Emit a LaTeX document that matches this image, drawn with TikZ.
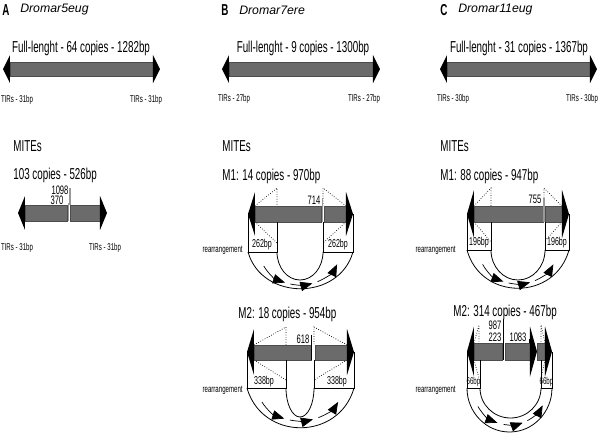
\documentclass[tikz,border=0pt]{standalone}
\usepackage{fontspec}
\newfontfamily\narrowsf{Liberation Sans}[FakeStretch=0.62]
\newfontfamily\plainsf{Liberation Sans}
\usetikzlibrary{positioning, arrows.meta}

\begin{document}
\begin{tikzpicture}[x=0.02cm, y=-0.02cm, line width=0.45pt,
    lbl/.style={font=\narrowsf\fontsize{9}{10}\selectfont, inner sep=0pt},
    tir/.style={font=\narrowsf\fontsize{5.6}{6}\selectfont, inner sep=0pt},
    num/.style={font=\narrowsf\fontsize{7}{8}\selectfont, inner sep=0pt},
    bp/.style={font=\narrowsf\fontsize{6.5}{7}\selectfont, inner sep=0pt},
    panel/.style={font=\narrowsf\bfseries\fontsize{9}{10}\selectfont, inner sep=0pt},
    species/.style={font=\plainsf\itshape\fontsize{7}{8}\selectfont, inner sep=0pt},
    bar/.style={fill=black!58, draw=black!70, line width=0.3pt},
    dot/.style={densely dotted, line width=0.4pt},
    tick/.style={draw=black!40, line width=0.6pt},
    flow/.style={-{Triangle[length=2.4mm, width=1.9mm]}, line width=0.4pt},
    pics/tirl/.style={code={\fill (0,-#1) -- (-7,0) -- (0,#1) -- cycle;}},
    pics/tirr/.style={code={\fill (0,-#1) -- (7,0) -- (0,#1) -- cycle;}}
  ]
  \useasboundingbox (0,0) rectangle (600,434);

  % A
  \node[panel, anchor=west] (lA) at (2,10) {A};
  \node[species, right=0.2cm of lA] (nA) {Dromar5eug};
  \node[lbl] (fA) at (81,48) {Full-lenght - 64 copies - 1282bp};
  \draw[bar] (10,62) rectangle (153,76);
  \pic at (10,69) {tirl=14};
  \pic at (153,69) {tirr=14};
  \node[tir] (tA1) at (17,100) {TIRs - 31bp};
  \node[tir] (tA2) at (146,100) {TIRs - 31bp};

  \node[lbl, anchor=west] (mA) at (13,146) {MITEs};
  \node[lbl, anchor=west] (cA) at (13,175) {103 copies - 526bp};
  \draw[bar] (25,205) rectangle (67,221);
  \draw[bar] (70,205) rectangle (100,221);
  \draw[tick] (68.5,203) -- (68.5,221);
  \draw[tick] (70,188) -- (70,205);
  \pic at (25,213) {tirl=17};
  \pic at (100,213) {tirr=17};
  \node[num] (pA1) at (60,190) {1098};
  \node[num] (pA2) at (57,200) {370};
  \node[tir] (tA3) at (17,248) {TIRs - 31bp};
  \node[tir] (tA4) at (105,248) {TIRs - 31bp};

  % B
  \node[panel, anchor=west] (lB) at (221,10) {B};
  \node[species, right=0.2cm of lB] (nB) {Dromar7ere};
  \node[lbl] (fB) at (303,48) {Full-lenght - 9 copies - 1300bp};
  \draw[bar] (229,62) rectangle (373,76);
  \pic at (229,69) {tirl=14};
  \pic at (373,69) {tirr=14};
  \node[tir] (tB1) at (234,99) {TIRs - 27bp};
  \node[tir] (tB2) at (364,99) {TIRs - 27bp};
  \node[lbl, anchor=west] (mB) at (222,146) {MITEs};

  % B - M1
  \node[lbl, anchor=west] (cB1) at (222,176) {M1: 14 copies - 970bp};
  \draw[dot] (255,206) -- (277,188) -- (277,206)  (255,222) -- (277,243);
  \draw[dot] (346,206) -- (323,188) -- (323,206)  (346,222) -- (323,243);
  \draw[bar] (255,206) rectangle (321,222);
  \draw[bar] (324,206) rectangle (346,222);
  \draw[tick] (322.5,198) -- (322.5,222);
  \pic at (255,214) {tirl=22};
  \pic at (346,214) {tirr=22};
  \node[num] (pB1) at (314,200) {714};
  \draw (248,214) -- (248,252) -- (277,252) -- (277,222);
  \draw (353,214) -- (353,252) -- (323,252) -- (323,222);
  \draw (277,252) arc[start angle=180, end angle=0, x radius=23, y radius=28];
  \draw (248,252) .. controls (262,301) and (339,301) .. (353,252);
  \foreach \a/\b in {155/112, 104/72, 64/22}
    \draw[flow] ([shift={(300,252)}]\a:40 and 33) arc[start angle=\a, end angle=\b, x radius=40, y radius=33];
  \node[bp] (sB1) at (262,245) {262bp};
  \node[bp] (sB2) at (338,245) {262bp};
  \node[tir, anchor=east] (rB1) at (243,250) {rearrangement};

  % B - M2
  \node[lbl, anchor=west] (cB2) at (238,314) {M2: 18 copies - 954bp};
  \draw[dot] (254,345) -- (286,327) -- (286,345)  (254,360) -- (286,380);
  \draw[dot] (347,345) -- (314,327) -- (314,345)  (347,360) -- (314,380);
  \draw[bar] (254,345) rectangle (311,360);
  \draw[bar] (315,345) rectangle (347,360);
  \draw[line width=0.4pt] (311,335) -- (311,360);
  \pic at (254,352) {tirl=23};
  \pic at (347,352) {tirr=23};
  \node[num] (pB2) at (303,339) {618};
  \draw (247,352) -- (247,388) -- (286,388) -- (286,360);
  \draw (354,352) -- (354,388) -- (314,388) -- (314,360);
  \draw (286,388) arc[start angle=180, end angle=0, x radius=14, y radius=29];
  \draw (247,388) .. controls (262,441) and (339,441) .. (354,388);
  \foreach \a/\b in {155/112, 104/72, 64/25}
    \draw[flow] ([shift={(300,388)}]\a:42 and 33) arc[start angle=\a, end angle=\b, x radius=42, y radius=33];
  \node[bp] (sB3) at (264,382) {338bp};
  \node[bp] (sB4) at (337,382) {338bp};
  \node[tir, anchor=east] (rB2) at (243,390) {rearrangement};

  % C
  \node[panel, anchor=west] (lC) at (440,10) {C};
  \node[species, right=0.2cm of lC] (nC) {Dromar11eug};
  \node[lbl] (fC) at (519,48) {Full-lenght - 31 copies - 1367bp};
  \draw[bar] (447,62) rectangle (590,76);
  \pic at (447,69) {tirl=14};
  \pic at (590,69) {tirr=14};
  \node[tir] (tC1) at (453,99) {TIRs - 30bp};
  \node[tir] (tC2) at (582,99) {TIRs - 30bp};
  \node[lbl, anchor=west] (mC) at (440,146) {MITEs};

  % C - M1
  \node[lbl, anchor=west] (cC1) at (440,176) {M1: 88 copies - 947bp};
  \draw[dot] (474,206) -- (491,188) -- (491,206)  (474,222) -- (491,242);
  \draw[dot] (562,206) -- (544,188) -- (544,206)  (562,222) -- (544,242);
  \draw[bar] (474,206) rectangle (543,222);
  \draw[bar] (545,206) rectangle (562,222);
  \draw[tick] (544,198) -- (544,222);
  \pic at (474,214) {tirl=24};
  \pic at (562,214) {tirr=24};
  \node[num] (pC1) at (535,199) {755};
  \draw (467,214) -- (467,250) -- (491,250) -- (491,222);
  \draw (569,214) -- (569,250) -- (545,250) -- (545,222);
  \draw (491,250) arc[start angle=180, end angle=0, x radius=27, y radius=30];
  \draw (467,250) .. controls (481,301) and (555,301) .. (569,250);
  \foreach \a/\b in {155/112, 104/72, 64/25}
    \draw[flow] ([shift={(518,250)}]\a:39 and 34) arc[start angle=\a, end angle=\b, x radius=39, y radius=34];
  \node[bp] (sC1) at (479,243) {196bp};
  \node[bp] (sC2) at (557,243) {196bp};
  \node[tir, anchor=east] (rC1) at (456,250) {rearrangement};

  % C - M2
  \node[lbl, anchor=west] (cC2) at (453,312) {M2: 314 copies - 467bp};
  \draw[dot] (474,343) -- (479,325) -- (479,343)  (474,360) -- (479,378);
  \draw[dot] (545,343) -- (541,325) -- (541,343)  (545,360) -- (541,378);
  \draw[bar] (474,343) rectangle (502,360);
  \draw[bar] (505,343) rectangle (530,360);
  \draw[bar] (537,343) rectangle (545,360);
  \draw[line width=0.4pt] (503.5,319) -- (503.5,360);
  \draw[line width=0.4pt] (529.5,339) -- (529.5,343);
  \pic at (474,351.5) {tirl=25};
  \pic at (530,351.5) {tirr=25};
  \pic at (545,351.5) {tirr=25};
  \node[num] (pC2) at (495,325) {987};
  \node[num] (pC3) at (495,337.5) {223};
  \node[num] (pC4) at (518,337.5) {1083};
  \draw (467,351.5) -- (467,388) -- (480,388) -- (480,360);
  \draw (552,351.5) -- (552,388) -- (541,388) -- (541,360);
  \draw (480,388) arc[start angle=180, end angle=0, x radius=30.5, y radius=30];
  \draw (467,388) arc[start angle=180, end angle=0, x radius=42.5, y radius=44];
  \foreach \a/\b in {150/110, 100/70, 62/28}
    \draw[flow] ([shift={(510,388)}]\a:37 and 37) arc[start angle=\a, end angle=\b, x radius=37, y radius=37];
  \node[tir] (sC3) at (473.5,382) {66bp};
  \node[tir] (sC4) at (546.5,382) {66bp};
  \node[tir, anchor=east] (rC2) at (456,390) {rearrangement};
\end{tikzpicture}
\end{document}
